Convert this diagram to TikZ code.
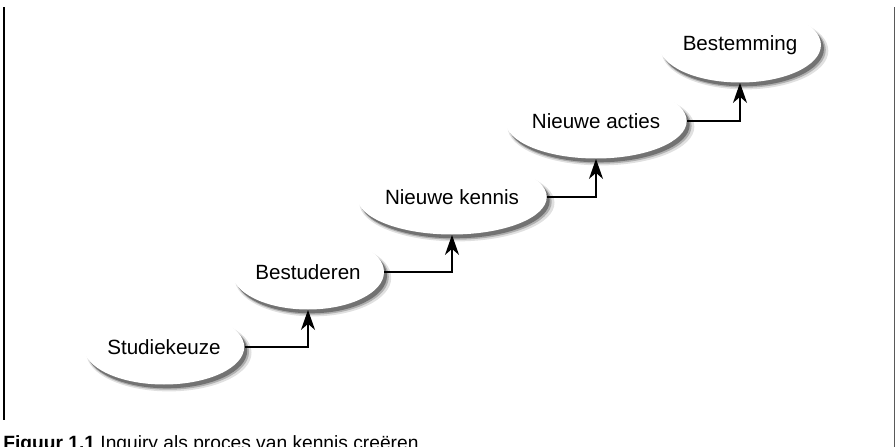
\documentclass[tikz,border=0pt]{standalone}
\usepackage{fontspec}
\setmainfont{Liberation Sans}
\usetikzlibrary{arrows.meta,shadows,shapes.geometric,positioning}
\tikzset{
  stap/.style={ellipse, fill=white, minimum width=76pt, minimum height=37.5pt,
    inner sep=0pt, font=\fontsize{10.3}{12}\selectfont,
    general shadow={shadow xshift=2.4pt, shadow yshift=-2.8pt, shadow scale=1.03, fill=black, opacity=0.12},
    general shadow={shadow xshift=2pt, shadow yshift=-2.4pt, shadow scale=1.01, fill=black, opacity=0.22},
    general shadow={shadow xshift=1.5pt, shadow yshift=-1.9pt, fill=black, opacity=0.35}},
  pijl/.style={-{Stealth[length=10pt,width=7pt,inset=3pt]}, line width=0.85pt},
}
\begin{document}
\begin{tikzpicture}[x=0.5pt,y=0.5pt]
\useasboundingbox (0,0) rectangle (896,446);
% kader
\draw[line width=0.65pt] (4,439) -- (4,26);
\draw[line width=0.7pt, black!65] (894.5,439) -- (894.5,-5);
% stappen
\node[stap] (keuze)  at (164,99)  {Studiekeuze};
\node[stap] (studie) at (308,174) {Bestuderen};
\node[stap] (kennis) at (452,249) {Nieuwe kennis};
\node[stap] (acties) at (596,325) {Nieuwe acties};
\node[stap] (doel)   at (740,401) {Bestemming};
% pijlen
\draw[pijl] (keuze.east)  -| (studie.south);
\draw[pijl] (studie.east) -| (kennis.south);
\draw[pijl] (kennis.east) -| (acties.south);
\draw[pijl] (acties.east) -| (doel.south);
% bijschrift
\node[anchor=base west, inner sep=0pt, font=\fontsize{9.6}{12}\selectfont] (titel) at (3,-3)
  {\textbf{Figuur 1.1} Inquiry als proces van kennis creëren};
\end{tikzpicture}
\end{document}
